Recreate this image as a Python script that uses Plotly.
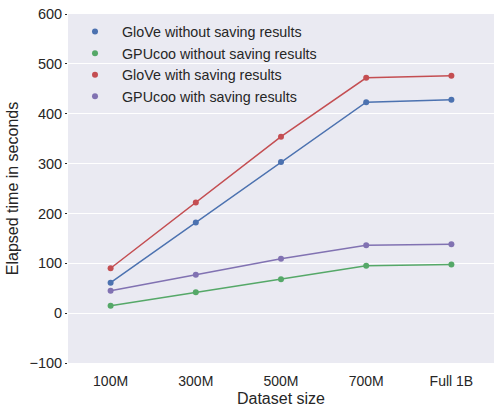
import plotly.graph_objects as go

categories = ["100M", "300M", "500M", "700M", "Full 1B"]
glove_no_save = [61, 182, 303, 423, 428]
gpucoo_no_save = [15, 42, 68, 95, 97.5]
glove_save = [90, 222, 354, 472, 476]
gpucoo_save = [45, 77, 109, 136, 138]

series = [
    ("GloVe without saving results", glove_no_save, "#4C72B0"),
    ("GPUcoo without saving results", gpucoo_no_save, "#55A868"),
    ("GloVe with saving results", glove_save, "#C44E52"),
    ("GPUcoo with saving results", gpucoo_save, "#8172B2"),
]

fig = go.Figure()
xs = list(range(len(categories)))
for name, vals, color in series:
    fig.add_trace(go.Scatter(
        x=xs, y=vals, mode="lines+markers", name=name, showlegend=False,
        line=dict(color=color, width=1.5), marker=dict(color=color, size=6),
    ))
for name, vals, color in series:
    fig.add_trace(go.Scatter(
        x=[None], y=[None], mode="markers", name=name,
        marker=dict(color=color, size=6),
    ))

font_family = "Liberation Sans, Arial, sans-serif"
fig.update_layout(
    width=494, height=407,
    margin=dict(l=68, r=0, t=14, b=41),
    paper_bgcolor="white", plot_bgcolor="#EAEAF2",
    font=dict(family=font_family, size=14, color="#262626"),
    showlegend=True,
    legend=dict(x=0.0, y=0.995, xanchor="left", yanchor="top",
                bgcolor="rgba(0,0,0,0)", font=dict(size=14.3), tracegroupgap=0,
                itemwidth=44),
    xaxis=dict(
        tickmode="array", tickvals=xs, ticktext=categories,
        range=[-0.5, 4.5], showgrid=False, zeroline=False,
        title=dict(text="Dataset size", font=dict(size=16), standoff=7),
        tickfont=dict(size=14), ticks="", showline=False, ticklabelstandoff=8,
    ),
    yaxis=dict(
        range=[-100, 600], dtick=100, tick0=0,
        showgrid=True, gridcolor="white", gridwidth=1,
        zeroline=True, zerolinecolor="white", zerolinewidth=1,
        title=dict(text="Elapsed time in seconds", font=dict(size=16), standoff=6),
        tickfont=dict(size=14.5), ticks="outside", ticklen=2, tickcolor="#262626",
        showline=False,
    ),
)

fig.write_html("out.html", config={"displayModeBar": False},
               post_script="document.body.style.margin='0';")
